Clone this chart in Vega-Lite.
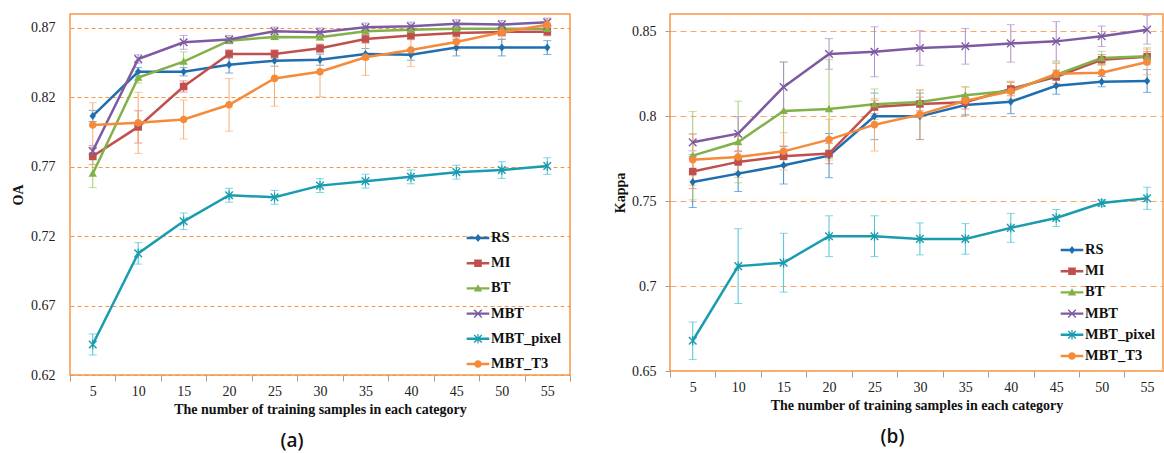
{
  "$schema": "https://vega.github.io/schema/vega-lite/v6.json",
  "padding": {"left": 10, "top": 13, "right": 0, "bottom": 0},
  "background": "white",
  "config": {
    "view": {"stroke": "#F79646", "strokeWidth": 1.5},
    "axis": {"labelFont": "Liberation Serif", "labelFontSize": 14, "labelColor": "#222", "titleFont": "Liberation Serif", "titleFontSize": 14, "titleFontWeight": "bold", "titleColor": "#111", "domain": false, "tickColor": "#a0a0a0"},
    "legend": {"labelFont": "Liberation Serif", "labelFontSize": 14.5, "labelFontWeight": "bold", "labelColor": "#111", "padding": 0}
  },
  "datasets": {
    "oa": [
      {"m":"RS","n":5,"v":0.8066,"e":0.004},{"m":"RS","n":10,"v":0.8384,"e":0.003},{"m":"RS","n":15,"v":0.8384,"e":0.003},{"m":"RS","n":20,"v":0.8435,"e":0.006},{"m":"RS","n":25,"v":0.8464,"e":0.004},{"m":"RS","n":30,"v":0.8471,"e":0.004},{"m":"RS","n":35,"v":0.8512,"e":0.004},{"m":"RS","n":40,"v":0.8507,"e":0.004},{"m":"RS","n":45,"v":0.8558,"e":0.006},{"m":"RS","n":50,"v":0.8558,"e":0.006},{"m":"RS","n":55,"v":0.8558,"e":0.005},
      {"m":"MI","n":5,"v":0.7775,"e":0.006},{"m":"MI","n":10,"v":0.7987,"e":0.0116},{"m":"MI","n":15,"v":0.8278,"e":0.004},{"m":"MI","n":20,"v":0.8512,"e":0.003},{"m":"MI","n":25,"v":0.8512,"e":0.003},{"m":"MI","n":30,"v":0.8553,"e":0.003},{"m":"MI","n":35,"v":0.862,"e":0.003},{"m":"MI","n":40,"v":0.8645,"e":0.003},{"m":"MI","n":45,"v":0.8664,"e":0.003},{"m":"MI","n":50,"v":0.8671,"e":0.003},{"m":"MI","n":55,"v":0.8673,"e":0.003},
      {"m":"BT","n":5,"v":0.765,"e":0.01},{"m":"BT","n":10,"v":0.8343,"e":0.004},{"m":"BT","n":15,"v":0.8457,"e":0.007},{"m":"BT","n":20,"v":0.8608,"e":0.002},{"m":"BT","n":25,"v":0.8635,"e":0.002},{"m":"BT","n":30,"v":0.8633,"e":0.002},{"m":"BT","n":35,"v":0.8676,"e":0.002},{"m":"BT","n":40,"v":0.8686,"e":0.002},{"m":"BT","n":45,"v":0.8693,"e":0.002},{"m":"BT","n":50,"v":0.8693,"e":0.002},{"m":"BT","n":55,"v":0.8693,"e":0.002},
      {"m":"MBT","n":5,"v":0.7813,"e":0.004},{"m":"MBT","n":10,"v":0.8476,"e":0.003},{"m":"MBT","n":15,"v":0.8596,"e":0.005},{"m":"MBT","n":20,"v":0.8616,"e":0.003},{"m":"MBT","n":25,"v":0.8676,"e":0.003},{"m":"MBT","n":30,"v":0.8669,"e":0.003},{"m":"MBT","n":35,"v":0.8705,"e":0.003},{"m":"MBT","n":40,"v":0.8712,"e":0.003},{"m":"MBT","n":45,"v":0.8729,"e":0.003},{"m":"MBT","n":50,"v":0.8724,"e":0.003},{"m":"MBT","n":55,"v":0.8741,"e":0.003},
      {"m":"MBT_pixel","n":5,"v":0.642,"e":0.0076},{"m":"MBT_pixel","n":10,"v":0.7076,"e":0.0077},{"m":"MBT_pixel","n":15,"v":0.7307,"e":0.006},{"m":"MBT_pixel","n":20,"v":0.7495,"e":0.005},{"m":"MBT_pixel","n":25,"v":0.748,"e":0.005},{"m":"MBT_pixel","n":30,"v":0.7564,"e":0.005},{"m":"MBT_pixel","n":35,"v":0.7596,"e":0.005},{"m":"MBT_pixel","n":40,"v":0.7627,"e":0.005},{"m":"MBT_pixel","n":45,"v":0.7661,"e":0.005},{"m":"MBT_pixel","n":50,"v":0.7676,"e":0.006},{"m":"MBT_pixel","n":55,"v":0.7705,"e":0.006},
      {"m":"MBT_T3","n":5,"v":0.8001,"e":0.016},{"m":"MBT_T3","n":10,"v":0.8016,"e":0.022},{"m":"MBT_T3","n":15,"v":0.804,"e":0.014},{"m":"MBT_T3","n":20,"v":0.8146,"e":0.019},{"m":"MBT_T3","n":25,"v":0.8336,"e":0.02},{"m":"MBT_T3","n":30,"v":0.8384,"e":0.018},{"m":"MBT_T3","n":35,"v":0.8488,"e":0.013},{"m":"MBT_T3","n":40,"v":0.8541,"e":0.012},{"m":"MBT_T3","n":45,"v":0.8599,"e":0.006},{"m":"MBT_T3","n":50,"v":0.8669,"e":0.005},{"m":"MBT_T3","n":55,"v":0.8722,"e":0.004}
    ],
    "kappa": [
      {"m":"RS","n":5,"v":0.7612,"e":0.015},{"m":"RS","n":10,"v":0.7661,"e":0.0105},{"m":"RS","n":15,"v":0.771,"e":0.011},{"m":"RS","n":20,"v":0.7767,"e":0.013},{"m":"RS","n":25,"v":0.7998,"e":0.0137},{"m":"RS","n":30,"v":0.7998,"e":0.0137},{"m":"RS","n":35,"v":0.8065,"e":0.006},{"m":"RS","n":40,"v":0.8084,"e":0.007},{"m":"RS","n":45,"v":0.8178,"e":0.005},{"m":"RS","n":50,"v":0.8202,"e":0.003},{"m":"RS","n":55,"v":0.8206,"e":0.0067},
      {"m":"MI","n":5,"v":0.7673,"e":0.01},{"m":"MI","n":10,"v":0.773,"e":0.006},{"m":"MI","n":15,"v":0.7763,"e":0.006},{"m":"MI","n":20,"v":0.7779,"e":0.006},{"m":"MI","n":25,"v":0.8053,"e":0.004},{"m":"MI","n":30,"v":0.8071,"e":0.004},{"m":"MI","n":35,"v":0.8081,"e":0.004},{"m":"MI","n":40,"v":0.8159,"e":0.004},{"m":"MI","n":45,"v":0.823,"e":0.004},{"m":"MI","n":50,"v":0.8331,"e":0.003},{"m":"MI","n":55,"v":0.8349,"e":0.003},
      {"m":"BT","n":5,"v":0.7767,"e":0.026},{"m":"BT","n":10,"v":0.7847,"e":0.024},{"m":"BT","n":15,"v":0.803,"e":0.0287},{"m":"BT","n":20,"v":0.8041,"e":0.029},{"m":"BT","n":25,"v":0.8069,"e":0.009},{"m":"BT","n":30,"v":0.8082,"e":0.007},{"m":"BT","n":35,"v":0.8122,"e":0.005},{"m":"BT","n":40,"v":0.8149,"e":0.005},{"m":"BT","n":45,"v":0.8243,"e":0.007},{"m":"BT","n":50,"v":0.8341,"e":0.004},{"m":"BT","n":55,"v":0.8351,"e":0.005},
      {"m":"MBT","n":5,"v":0.7845,"e":0.005},{"m":"MBT","n":10,"v":0.7896,"e":0.01},{"m":"MBT","n":15,"v":0.8171,"e":0.0147},{"m":"MBT","n":20,"v":0.8365,"e":0.009},{"m":"MBT","n":25,"v":0.8378,"e":0.0147},{"m":"MBT","n":30,"v":0.84,"e":0.0102},{"m":"MBT","n":35,"v":0.841,"e":0.0105},{"m":"MBT","n":40,"v":0.8427,"e":0.011},{"m":"MBT","n":45,"v":0.8439,"e":0.0116},{"m":"MBT","n":50,"v":0.8469,"e":0.006},{"m":"MBT","n":55,"v":0.8508,"e":0.0085},
      {"m":"MBT_pixel","n":5,"v":0.6678,"e":0.011},{"m":"MBT_pixel","n":10,"v":0.7117,"e":0.022},{"m":"MBT_pixel","n":15,"v":0.7137,"e":0.0173},{"m":"MBT_pixel","n":20,"v":0.7293,"e":0.012},{"m":"MBT_pixel","n":25,"v":0.7293,"e":0.012},{"m":"MBT_pixel","n":30,"v":0.7277,"e":0.0094},{"m":"MBT_pixel","n":35,"v":0.7277,"e":0.009},{"m":"MBT_pixel","n":40,"v":0.7342,"e":0.0085},{"m":"MBT_pixel","n":45,"v":0.74,"e":0.005},{"m":"MBT_pixel","n":50,"v":0.7488,"e":0.002},{"m":"MBT_pixel","n":55,"v":0.7516,"e":0.0065},
      {"m":"MBT_T3","n":5,"v":0.7743,"e":0.015},{"m":"MBT_T3","n":10,"v":0.7759,"e":0.012},{"m":"MBT_T3","n":15,"v":0.7792,"e":0.011},{"m":"MBT_T3","n":20,"v":0.7861,"e":0.012},{"m":"MBT_T3","n":25,"v":0.7949,"e":0.0155},{"m":"MBT_T3","n":30,"v":0.8008,"e":0.0145},{"m":"MBT_T3","n":35,"v":0.809,"e":0.008},{"m":"MBT_T3","n":40,"v":0.8145,"e":0.006},{"m":"MBT_T3","n":45,"v":0.8249,"e":0.006},{"m":"MBT_T3","n":50,"v":0.8255,"e":0.005},{"m":"MBT_T3","n":55,"v":0.8318,"e":0.0075}
    ]
  },
  "spacing": 40,
  "resolve": {"scale": {"x": "independent", "y": "independent", "shape": "independent", "fill": "independent", "stroke": "independent", "color": "independent"}, "legend": {"shape": "independent", "color": "independent"}},
  "hconcat": [
    {
      "width": 500, "height": 361,
      "data": {"name": "oa"},
      "title": {"text": "(a)", "orient": "bottom", "anchor": "middle", "offset": 16, "dx": -28, "font": "Open Sans", "fontSize": 19, "fontWeight": 600, "color": "#111"},
      "resolve": {"scale": {"color": "independent", "shape": "independent"}},
      "encoding": {
        "x": {"field": "n", "type": "quantitative", "scale": {"domain": [2.5, 57.5], "nice": false, "zero": false},
          "axis": {"title": "The number of training samples in each category", "values": [2.5,5,7.5,10,12.5,15,17.5,20,22.5,25,27.5,30,32.5,35,37.5,40,42.5,45,47.5,50,52.5,55,57.5], "labelExpr": "datum.value % 5 === 0 ? format(datum.value, 'd') : ''", "tickOpacity": {"condition": {"test": "datum.value % 5 === 0", "value": 0}, "value": 1}, "tickSize": 6, "labelPadding": 3, "titlePadding": 4, "labelOverlap": false, "labelFlush": false, "grid": false}},
        "y": {"field": "v", "type": "quantitative", "scale": {"domain": [0.62, 0.88], "nice": false, "zero": false},
          "axis": {"title": "OA", "values": [0.62,0.67,0.72,0.77,0.82,0.87], "format": ".2f", "ticks": false, "labelPadding": 15, "titlePadding": 5, "grid": true, "gridColor": "#F79646", "gridDash": [4,3], "gridWidth": 1}}
      },
      "layer": [
        {"mark": {"type": "errorbar", "ticks": {"size": 8}, "thickness": 1},
         "encoding": {"yError": {"field": "e"}, "color": {"field": "m", "type": "nominal", "legend": null, "scale": {"domain": ["RS","MI","BT","MBT","MBT_pixel","MBT_T3"], "range": ["#3f8fd2","#e0706c","#a6cc70","#a98fc8","#4cc5d8","#f9ad70"]}}}},
        {"mark": {"type": "line", "strokeWidth": 2.5},
         "encoding": {"stroke": {"field": "m", "type": "nominal", "legend": null, "scale": {"domain": ["RS","MI","BT","MBT","MBT_pixel","MBT_T3"], "range": ["#1f6eb0","#c0504d","#82b14a","#7e5aa2","#1a9cb0","#f58b3a"]}}}},
        {"mark": {"type": "point", "filled": true, "size": 400, "opacity": 1},
         "encoding": {
           "fill": {"field": "m", "type": "nominal", "legend": null, "scale": {"domain": ["RS","MI","BT","MBT","MBT_pixel","MBT_T3"], "range": ["#1f6eb0","#c0504d","#82b14a","#7e5aa2","#1a9cb0","#f58b3a"]}},
           "shape": {"field": "m", "type": "nominal", "legend": null,
             "scale": {"domain": ["RS","MI","BT","MBT","MBT_pixel","MBT_T3"], "range": ["M0,-0.4L0.32,0L0,0.4L-0.32,0Z","M-0.38,-0.38H0.38V0.38H-0.38Z","M0,-0.42L0.42,0.32H-0.42Z","M-0.33,-0.43L0.43,0.33L0.33,0.43L-0.43,-0.33ZM-0.43,0.33L0.33,-0.43L0.43,-0.33L-0.33,0.43Z","M-0.33,-0.43L0.43,0.33L0.33,0.43L-0.43,-0.33ZM-0.43,0.33L0.33,-0.43L0.43,-0.33L-0.33,0.43ZM-0.06,-0.47H0.06V0.47H-0.06Z","M0.38,0A0.38,0.38 0 1,1 -0.38,0A0.38,0.38 0 1,1 0.38,0Z"]}}
         }},
        {"mark": {"type": "point", "filled": true, "size": 400, "opacity": 0},
         "encoding": {
           "color": {"field": "m", "type": "nominal", "scale": {"domain": ["RS","MI","BT","MBT","MBT_pixel","MBT_T3"], "range": ["#1f6eb0","#c0504d","#82b14a","#7e5aa2","#1a9cb0","#f58b3a"]},
             "legend": {"title": null, "orient": "none", "legendX": 398, "legendY": 214, "symbolSize": 400, "symbolOpacity": 1, "symbolStrokeWidth": 0, "rowPadding": 8.2, "labelOffset": 3}},
           "shape": {"field": "m", "type": "nominal",
             "scale": {"domain": ["RS","MI","BT","MBT","MBT_pixel","MBT_T3"], "range": ["M-1.13,-0.12H1.13V0.12H-1.13ZM0,-0.4L0.32,0L0,0.4L-0.32,0Z","M-1.13,-0.12H1.13V0.12H-1.13ZM-0.38,-0.38H0.38V0.38H-0.38Z","M-1.13,-0.12H1.13V0.12H-1.13ZM0,-0.42L0.42,0.32H-0.42Z","M-1.13,-0.12H1.13V0.12H-1.13ZM-0.33,-0.43L0.43,0.33L0.33,0.43L-0.43,-0.33ZM-0.43,0.33L0.33,-0.43L0.43,-0.33L-0.33,0.43Z","M-1.13,-0.12H1.13V0.12H-1.13ZM-0.33,-0.43L0.43,0.33L0.33,0.43L-0.43,-0.33ZM-0.43,0.33L0.33,-0.43L0.43,-0.33L-0.33,0.43ZM-0.06,-0.47H0.06V0.47H-0.06Z","M-1.13,-0.12H1.13V0.12H-1.13ZM0.38,0A0.38,0.38 0 1,1 -0.38,0A0.38,0.38 0 1,1 0.38,0Z"]},
             "legend": {"title": null, "orient": "none", "legendX": 398, "legendY": 214, "symbolSize": 400, "symbolOpacity": 1, "symbolStrokeWidth": 0, "rowPadding": 8.2, "labelOffset": 3}}
         }}
      ]
    },
    {
      "width": 493, "height": 357,
      "data": {"name": "kappa"},
      "title": {"text": "(b)", "orient": "bottom", "anchor": "middle", "offset": 16, "dx": -24, "font": "Open Sans", "fontSize": 19, "fontWeight": 600, "color": "#111"},
      "resolve": {"scale": {"color": "independent", "shape": "independent"}},
      "encoding": {
        "x": {"field": "n", "type": "quantitative", "scale": {"domain": [2.5, 56.75], "nice": false, "zero": false},
          "axis": {"title": "The number of training samples in each category", "values": [2.5,5,7.5,10,12.5,15,17.5,20,22.5,25,27.5,30,32.5,35,37.5,40,42.5,45,47.5,50,52.5,55], "labelExpr": "datum.value % 5 === 0 ? format(datum.value, 'd') : ''", "tickOpacity": {"condition": {"test": "datum.value % 5 === 0", "value": 0}, "value": 1}, "tickSize": 6, "labelPadding": 3, "titlePadding": 4, "labelOverlap": false, "labelFlush": false, "grid": false}},
        "y": {"field": "v", "type": "quantitative", "scale": {"domain": [0.65, 0.86], "nice": false, "zero": false},
          "axis": {"title": "Kappa", "values": [0.65,0.7,0.75,0.8,0.85], "format": ".2~f", "ticks": true, "tickSize": 5, "labelPadding": 9, "titlePadding": 4, "grid": true, "gridColor": "#F9A86A", "gridDash": [6,4], "gridWidth": 1}}
      },
      "layer": [
        {"mark": {"type": "errorbar", "ticks": {"size": 8}, "thickness": 1},
         "encoding": {"yError": {"field": "e"}, "color": {"field": "m", "type": "nominal", "legend": null, "scale": {"domain": ["RS","MI","BT","MBT","MBT_pixel","MBT_T3"], "range": ["#3f8fd2","#e0706c","#a6cc70","#a98fc8","#4cc5d8","#f9ad70"]}}}},
        {"mark": {"type": "line", "strokeWidth": 2.5},
         "encoding": {"stroke": {"field": "m", "type": "nominal", "legend": null, "scale": {"domain": ["RS","MI","BT","MBT","MBT_pixel","MBT_T3"], "range": ["#1f6eb0","#c0504d","#82b14a","#7e5aa2","#1a9cb0","#f58b3a"]}}}},
        {"mark": {"type": "point", "filled": true, "size": 400, "opacity": 1},
         "encoding": {
           "fill": {"field": "m", "type": "nominal", "legend": null, "scale": {"domain": ["RS","MI","BT","MBT","MBT_pixel","MBT_T3"], "range": ["#1f6eb0","#c0504d","#82b14a","#7e5aa2","#1a9cb0","#f58b3a"]}},
           "shape": {"field": "m", "type": "nominal", "legend": null,
             "scale": {"domain": ["RS","MI","BT","MBT","MBT_pixel","MBT_T3"], "range": ["M0,-0.4L0.32,0L0,0.4L-0.32,0Z","M-0.38,-0.38H0.38V0.38H-0.38Z","M0,-0.42L0.42,0.32H-0.42Z","M-0.33,-0.43L0.43,0.33L0.33,0.43L-0.43,-0.33ZM-0.43,0.33L0.33,-0.43L0.43,-0.33L-0.33,0.43Z","M-0.33,-0.43L0.43,0.33L0.33,0.43L-0.43,-0.33ZM-0.43,0.33L0.33,-0.43L0.43,-0.33L-0.33,0.43ZM-0.06,-0.47H0.06V0.47H-0.06Z","M0.38,0A0.38,0.38 0 1,1 -0.38,0A0.38,0.38 0 1,1 0.38,0Z"]}}
         }},
        {"mark": {"type": "point", "filled": true, "size": 400, "opacity": 0},
         "encoding": {
           "color": {"field": "m", "type": "nominal", "scale": {"domain": ["RS","MI","BT","MBT","MBT_pixel","MBT_T3"], "range": ["#1f6eb0","#c0504d","#82b14a","#7e5aa2","#1a9cb0","#f58b3a"]},
             "legend": {"title": null, "orient": "none", "legendX": 392, "legendY": 226, "symbolSize": 400, "symbolOpacity": 1, "symbolStrokeWidth": 0, "rowPadding": 4.2, "labelOffset": 3}},
           "shape": {"field": "m", "type": "nominal",
             "scale": {"domain": ["RS","MI","BT","MBT","MBT_pixel","MBT_T3"], "range": ["M-1.13,-0.12H1.13V0.12H-1.13ZM0,-0.4L0.32,0L0,0.4L-0.32,0Z","M-1.13,-0.12H1.13V0.12H-1.13ZM-0.38,-0.38H0.38V0.38H-0.38Z","M-1.13,-0.12H1.13V0.12H-1.13ZM0,-0.42L0.42,0.32H-0.42Z","M-1.13,-0.12H1.13V0.12H-1.13ZM-0.33,-0.43L0.43,0.33L0.33,0.43L-0.43,-0.33ZM-0.43,0.33L0.33,-0.43L0.43,-0.33L-0.33,0.43Z","M-1.13,-0.12H1.13V0.12H-1.13ZM-0.33,-0.43L0.43,0.33L0.33,0.43L-0.43,-0.33ZM-0.43,0.33L0.33,-0.43L0.43,-0.33L-0.33,0.43ZM-0.06,-0.47H0.06V0.47H-0.06Z","M-1.13,-0.12H1.13V0.12H-1.13ZM0.38,0A0.38,0.38 0 1,1 -0.38,0A0.38,0.38 0 1,1 0.38,0Z"]},
             "legend": {"title": null, "orient": "none", "legendX": 392, "legendY": 226, "symbolSize": 400, "symbolOpacity": 1, "symbolStrokeWidth": 0, "rowPadding": 4.2, "labelOffset": 3}}
         }}
      ]
    }
  ]
}
